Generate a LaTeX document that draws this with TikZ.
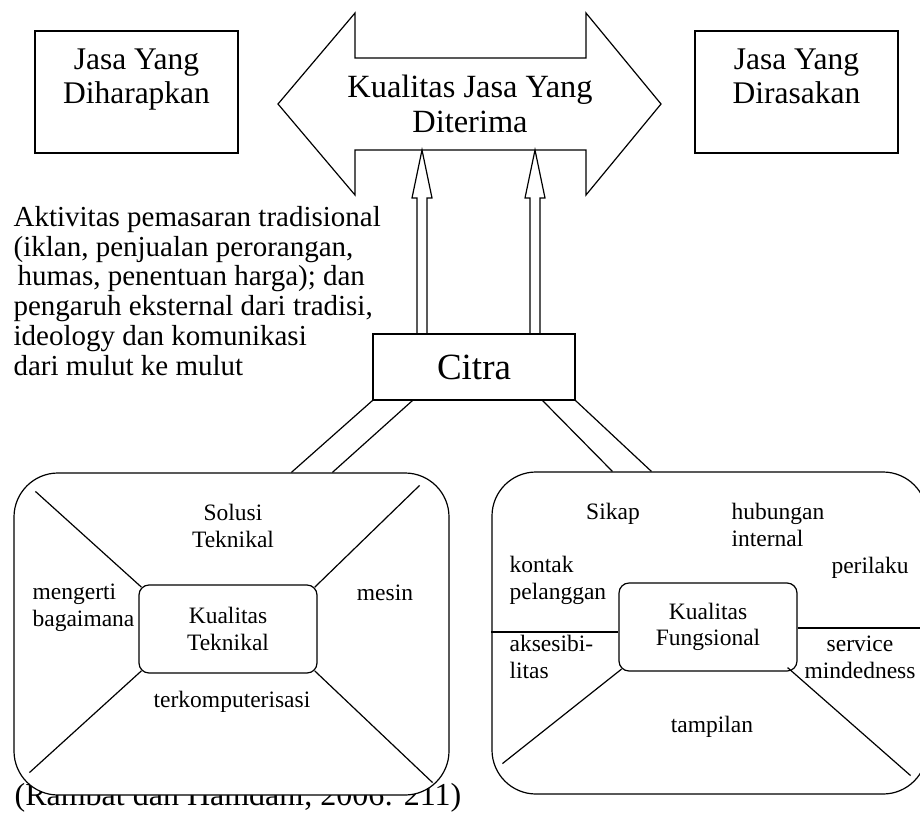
\documentclass[tikz,border=0pt]{standalone}
\usepackage{fontspec}
\setmainfont{Liberation Serif}

\newcommand\fbesar{\fontsize{31.5}{34}\selectfont}
\newcommand\fpanah{\fontsize{32.4}{35}\selectfont}
\newcommand\fteks{\fontsize{29}{29.7}\selectfont}
\newcommand\fkecil{\fontsize{23.5}{26.5}\selectfont}
\newcommand\fcitra{\fontsize{37}{40}\selectfont}
\newcommand\fsumber{\fontsize{32}{36}\selectfont}

\begin{document}
\begin{tikzpicture}[x=1pt, y=-1pt, line width=1.2pt,
    kotak/.style={draw, rectangle, inner sep=0pt},
    jasa/.style={kotak, minimum width=203pt, minimum height=122pt, align=center,
      text height=55pt, text depth=32pt, font=\fbesar},
    bulat/.style={draw, rounded corners=44pt, fill=white, minimum width=435pt,
      minimum height=322pt, inner sep=0pt},
    inti/.style={draw, rounded corners=10pt, fill=white, minimum width=178pt,
      minimum height=88pt, inner sep=0pt, align=center, font=\fkecil},
    ket/.style={inner sep=0pt, font=\fkecil}]
  \useasboundingbox (0,0) rectangle (920,814);

  \node[jasa] (harap) at (136.5,92) {Jasa Yang\\Diharapkan};
  \node[jasa] (rasa) at (796.5,92) {Jasa Yang\\Dirasakan};

  \draw (278,104) -- (355,13) -- (355,58) -- (586,58) -- (586,13) -- (661,104)
    -- (586,195) -- (586,150) -- (355,150) -- (355,195) -- cycle;
  \node[align=center, inner sep=0pt, font=\fpanah] (terima) at (470,104) {Kualitas Jasa Yang\\Diterima};

  \node[anchor=base west, align=left, inner sep=0pt, font=\fteks] (aktivitas) at (13,375)
    {Aktivitas pemasaran tradisional\\(iklan, penjualan perorangan,\\\hspace*{4pt}humas, penentuan harga); dan\\
     pengaruh eksternal dari tradisi,\\ideology dan komunikasi\\dari mulut ke mulut};

  \node[kotak, minimum width=202pt, minimum height=66pt, font=\fcitra] (citra) at (474,367) {Citra};

  \foreach \ax in {422,535} {
    \draw (\ax-5,334) -- (\ax-5,198) -- (\ax-10,198) -- (\ax,150) -- (\ax+10,198)
      -- (\ax+5,198) -- (\ax+5,334);
  }

  \node[anchor=base west, inner sep=0pt, font=\fsumber] (sumber) at (14,805) {(Rambat dan Hamdani, 2006: 211)};

  \node[bulat] (teknik) at (231.5,634) {};
  \node[bulat] (fungsi) at (709.5,633) {};

  \draw (citra.south west) -- ([xshift=278pt]teknik.north west);
  \draw ([xshift=40pt]citra.south west) -- ([xshift=319pt]teknik.north west);
  \draw ([xshift=-33pt]citra.south east) -- ([xshift=121pt]fungsi.north west);
  \draw (citra.south east) -- ([xshift=160pt]fungsi.north west);

  \node[inti] (kt) at (228,629) {Kualitas\\Teknikal};
  \draw[shorten <=-4pt] (kt.north west) -- ([shift={(22,19)}]teknik.north west);
  \draw[shorten <=-4pt] (kt.north east) -- ([shift={(-30,13)}]teknik.north east);
  \draw[shorten <=-4pt] (kt.south west) -- ([shift={(16,-23)}]teknik.south west);
  \draw[shorten <=-4pt] (kt.south east) -- ([shift={(-17,-13)}]teknik.south east);

  \node[ket, anchor=base, align=center] (solusi) at (233,547) {Solusi\\Teknikal};
  \node[ket, anchor=base west, align=left] (mengerti) at (32,626) {mengerti\\bagaimana};
  \node[ket, anchor=base] (mesin) at (385,600) {mesin};
  \node[ket, anchor=base] (komputer) at (232,707) {terkomputerisasi};

  \node[inti] (kf) at (708,627) {Kualitas\\Fungsional};
  \draw ([yshift=-5pt]kf.west -| fungsi.west) -- ([yshift=-5pt]kf.west);
  \draw ([yshift=-1pt]kf.east) -- ([yshift=-1pt]kf.east -| fungsi.east);
  \draw[shorten <=-4pt] (kf.south west) -- ([shift={(11,-31)}]fungsi.south west);
  \draw ([shift={(-10,-4)}]kf.south east) -- ([shift={(-17,-19)}]fungsi.south east);

  \node[ket, anchor=base] (sikap) at (613,519) {Sikap};
  \node[ket, anchor=base west, align=left] (hubungan) at (731,546) {hubungan\\internal};
  \node[ket, anchor=base] (perilaku) at (870,573) {perilaku};
  \node[ket, anchor=base west, align=left] (kontak) at (509,599) {kontak\\pelanggan};
  \node[ket, anchor=base west, align=left] (akses) at (509,678) {aksesibi-\\litas};
  \node[ket, anchor=base, align=center] (service) at (860,678) {service\\mindedness};
  \node[ket, anchor=base] (tampilan) at (712,732) {tampilan};
\end{tikzpicture}
\end{document}
